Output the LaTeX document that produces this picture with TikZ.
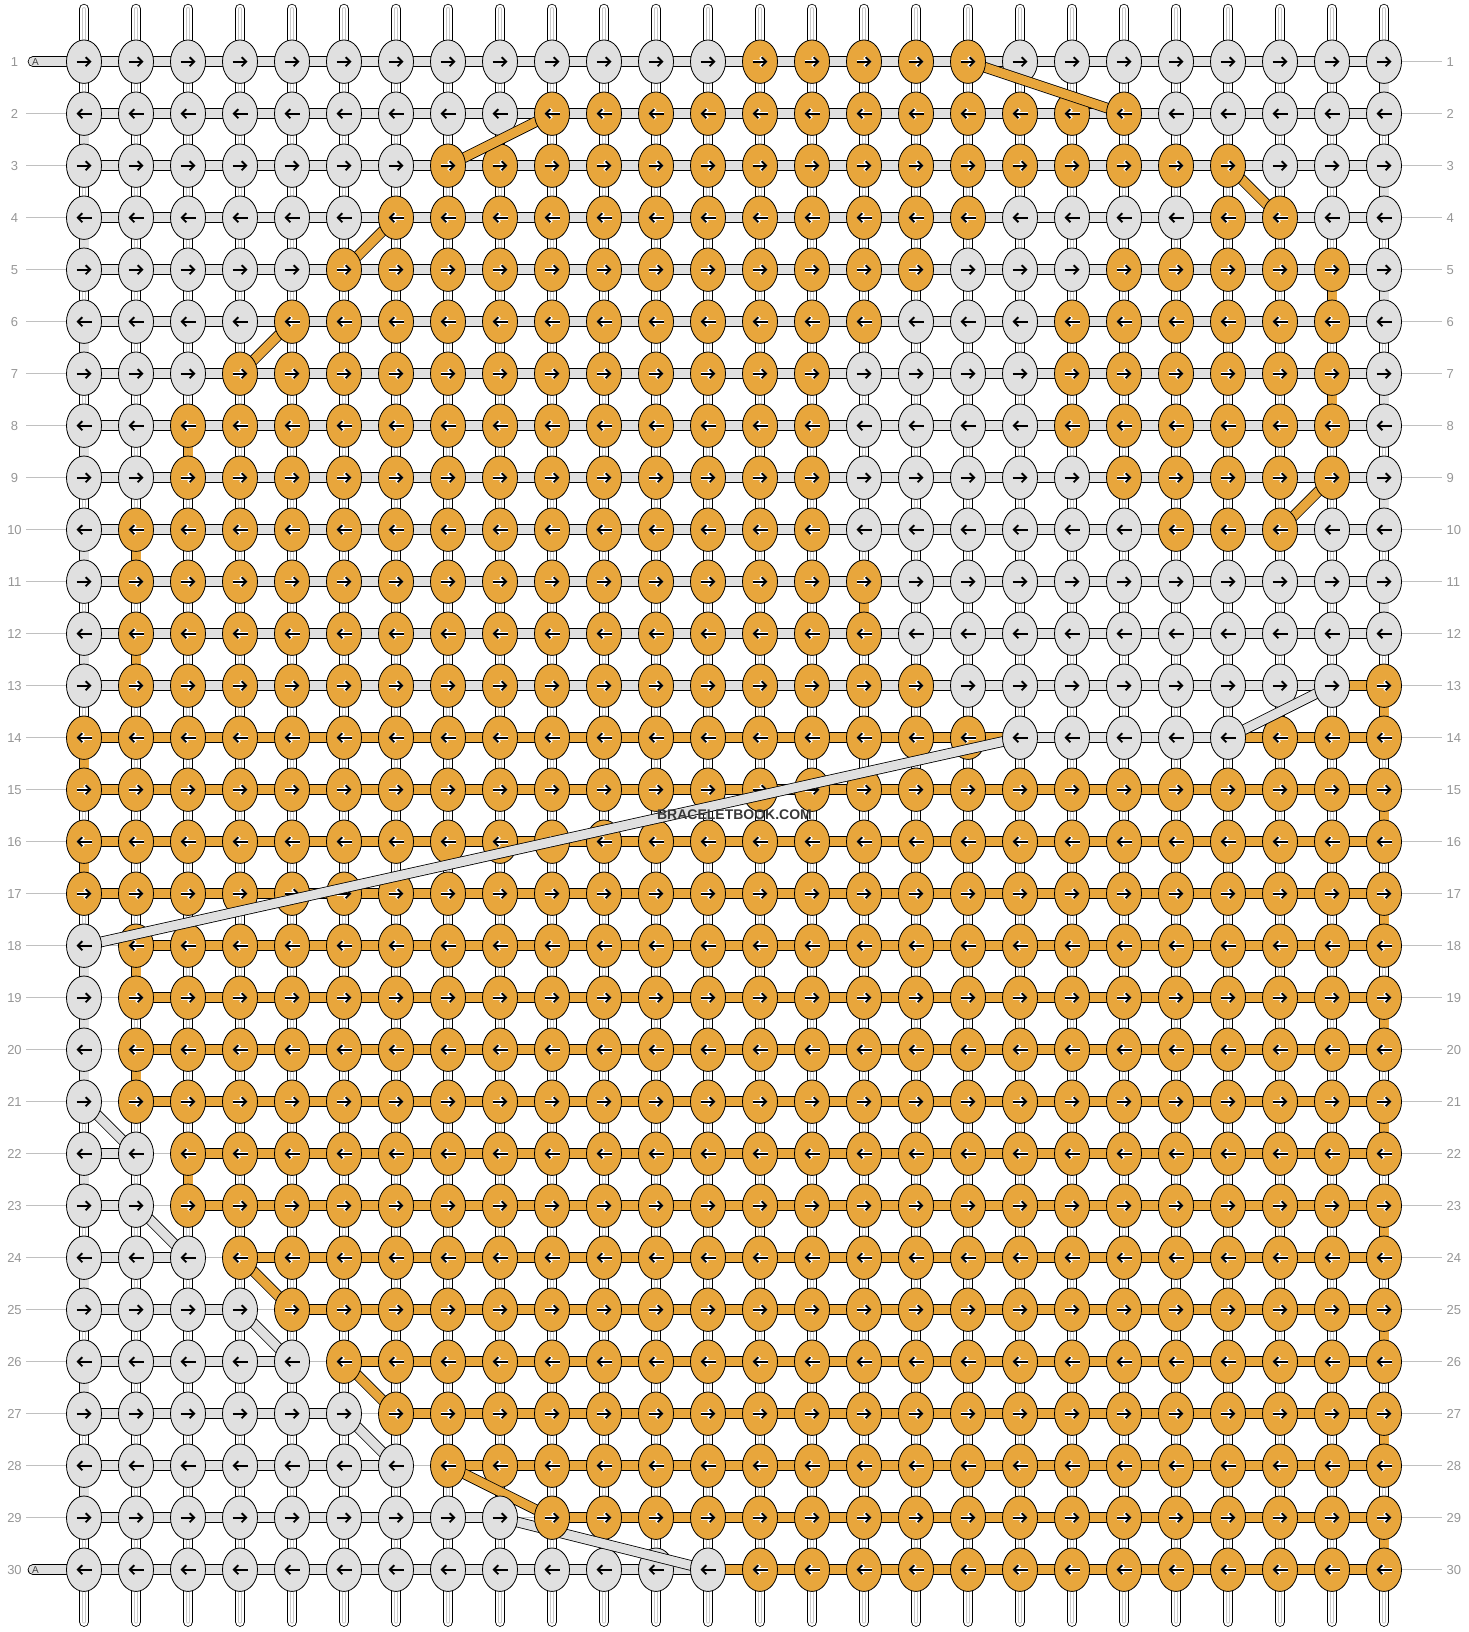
\documentclass[tikz,border=0pt]{standalone}
\usepackage{fontspec}
\setmainfont{Liberation Sans}
\usetikzlibrary{arrows.meta,shapes.geometric}

\definecolor{knotorange}{RGB}{232,166,60}
\definecolor{knotgray}{RGB}{224,224,224}
\definecolor{guidegray}{RGB}{192,192,192}
\definecolor{labelgray}{RGB}{150,150,150}
\definecolor{warpgray}{RGB}{200,200,200}

\pgfdeclarelayer{back}
\pgfdeclarelayer{diag}
\pgfdeclarelayer{top}
\pgfsetlayers{back,main,diag,top}

\tikzset{
  knot/.style={ellipse, draw=black, line width=0.8pt, minimum width=35pt, minimum height=43.4pt,
    inner sep=0pt, outer sep=0pt, path picture={
      \draw[halo] ([xshift=\kfrom]path picture bounding box.center) -- ([xshift=\kto]path picture bounding box.center);
      \draw[arrowline] ([xshift=\kfrom]path picture bounding box.center) -- ([xshift=\kto]path picture bounding box.center);}},
  halo/.style={draw=\khalo, line width=3.6pt, -{Straight Barb[length=4.5pt,width=9.5pt]}},
  arrowline/.style={draw=black, line width=1.9pt, -{Straight Barb[length=4.5pt,width=9pt]}},
  bar/.style={draw=black, line width=0.8pt, double=#1, double distance=9pt},
  warp/.style={draw=black, line width=0.8pt, double=white, double distance=8.7pt, line cap=round},
  warpline/.style={draw=warpgray, line width=0.7pt, double=white, double distance=2.2pt, line cap=round},
  guide/.style={draw=guidegray, line width=1pt},
  rownum/.style={text=labelgray, font=\fontsize{13}{13}\selectfont, inner sep=0pt}
}

% knot colours: row / first orange run / second orange run
\def\rowlist{1/14/18/0/0, 2/10/21/0/0, 3/8/23/0/0, 4/7/18/23/24, 5/6/17/21/25,
  6/5/16/20/25, 7/4/15/20/25, 8/3/15/20/25, 9/3/15/21/25, 10/2/15/22/24,
  11/2/16/0/0, 12/2/16/0/0, 13/2/17/26/26, 14/1/18/24/26, 15/1/26/0/0,
  16/1/26/0/0, 17/1/26/0/0, 18/2/26/0/0, 19/2/26/0/0, 20/2/26/0/0,
  21/2/26/0/0, 22/3/26/0/0, 23/3/26/0/0, 24/4/26/0/0, 25/5/26/0/0,
  26/6/26/0/0, 27/7/26/0/0, 28/8/26/0/0, 29/10/26/0/0, 30/14/26/0/0}

% threads that change row
\def\diaglist{1/18/2/21/knotorange, 2/10/3/8/knotorange, 3/23/4/24/knotorange,
  4/7/5/6/knotorange, 6/5/7/4/knotorange, 9/25/10/24/knotorange,
  24/4/25/5/knotorange, 26/6/27/7/knotorange, 28/8/29/10/knotorange,
  13/25/14/23/knotgray, 14/19/18/1/knotgray, 21/1/22/2/knotgray,
  23/2/24/3/knotgray, 25/4/26/5/knotgray, 27/6/28/7/knotgray, 29/9/30/13/knotgray}

% one pass over all knots: \kpass=1 draws only the ends of the row changes
\newcommand\knotloop{%
  \foreach \r/\a/\b/\d/\e in \rowlist {
    \foreach \c in {1,...,26} {
      \ifcsname top-\r-\c\endcsname \def\istop{1}\else\def\istop{0}\fi
      \ifnum\istop=\kpass
        \pgfmathtruncatemacro\isor{((\c>=\a)&&(\c<=\b))||((\c>=\d)&&(\c<=\e))}
        \ifnum\isor=1 \def\kfill{knotorange}\def\khalo{white}\else\def\kfill{knotgray}\def\khalo{knotgray}\fi
        \ifodd\r\relax \def\kfrom{-7.5pt}\def\kto{7.5pt}\else\def\kfrom{7.5pt}\def\kto{-7.5pt}\fi
        \node[knot, fill=\kfill] (k-\r-\c) at ({84+52*(\c-1)},{61.7+52*(\r-1)}) {};
      \fi
    }
  }}

\begin{document}
\begin{tikzpicture}[x=1pt, y=-1pt]

\useasboundingbox (0,0) rectangle (1468,1632);

\foreach \ra/\ca/\rb/\cb/\tc in \diaglist {
  \expandafter\gdef\csname top-\ra-\ca\endcsname{}
  \expandafter\gdef\csname top-\rb-\cb\endcsname{}
}

% knots
\def\kpass{0}
\knotloop
\begin{pgfonlayer}{top}
\def\kpass{1}
\knotloop
\end{pgfonlayer}

\begin{pgfonlayer}{back}
% guide lines
\foreach \r in {2,...,29}
  \draw[guide] (26,{61.7+52*(\r-1)}) -- (1442,{61.7+52*(\r-1)});
\foreach \r in {1,30}
  \draw[guide] (k-\r-26.center) -- (1442,{61.7+52*(\r-1)});

% warps
\foreach \c in {1,...,26} {
  \draw[warp] ([yshift=52.7pt]k-1-\c.center) -- ([yshift=-52pt]k-30-\c.center);
  \draw[warpline] ([yshift=52.7pt]k-1-\c.center) -- ([yshift=-52pt]k-30-\c.center);
}

% rows
\foreach \r in {1,...,12}
  \draw[bar=knotgray] (k-\r-1.center) -- (k-\r-26.center);
\foreach \r/\a/\b/\tc in {13/1/25/knotgray, 13/25/26/knotorange,
  14/1/19/knotorange, 14/19/23/knotgray, 14/23/26/knotorange,
  15/1/26/knotorange, 16/1/26/knotorange, 17/1/26/knotorange,
  18/2/26/knotorange, 19/2/26/knotorange, 20/2/26/knotorange, 21/2/26/knotorange,
  22/1/2/knotgray, 22/3/26/knotorange, 23/1/2/knotgray, 23/3/26/knotorange,
  24/1/3/knotgray, 24/4/26/knotorange, 25/1/4/knotgray, 25/5/26/knotorange,
  26/1/5/knotgray, 26/6/26/knotorange, 27/1/6/knotgray, 27/7/26/knotorange,
  28/1/7/knotgray, 28/8/26/knotorange, 29/1/9/knotgray, 29/10/26/knotorange,
  30/1/13/knotgray, 30/13/26/knotorange}
  \draw[bar=\tc] (k-\r-\a.center) -- (k-\r-\b.center);

% turns
\foreach \ra [evaluate=\ra as \rb using int(\ra+1)] in {1,3,...,11}
  \draw[bar=knotgray] (k-\ra-26.center) -- (k-\rb-26.center);
\foreach \ra [evaluate=\ra as \rb using int(\ra+1)] in {2,4,6,8,10,12,18,19,20,22,24,26,28}
  \draw[bar=knotgray] (k-\ra-1.center) -- (k-\rb-1.center);
\foreach \ra [evaluate=\ra as \rb using int(\ra+1)] in {13,15,...,29}
  \draw[bar=knotorange] (k-\ra-26.center) -- (k-\rb-26.center);
\foreach \c/\ra/\rb in {25/5/6, 25/7/8, 3/8/9, 2/10/11, 16/11/12, 2/12/13,
  1/14/15, 1/16/17, 2/18/19, 2/20/21, 3/22/23}
  \draw[bar=knotorange] (k-\ra-\c.center) -- (k-\rb-\c.center);

% A ends
\foreach \r in {1,30} {
  \coordinate (s-\r) at (33,{61.7+52*(\r-1)});
  \draw[bar=knotgray, line cap=round] (s-\r) -- (k-\r-1.center);
}
\end{pgfonlayer}

\foreach \r in {1,30}
  \node[font=\fontsize{10}{10}\selectfont, text=black!75, inner sep=0pt] (A-\r) at (35.5,{62+52*(\r-1)}) {A};

% row numbers
\foreach \r in {1,...,30} {
  \node[rownum] (ll-\r) at (14.5,{61.7+52*(\r-1)}) {\r};
  \node[rownum, anchor=west] (rl-\r) at (1446.5,{61.7+52*(\r-1)}) {\r};
}

\begin{pgfonlayer}{diag}
\foreach \ra/\ca/\rb/\cb/\tc in \diaglist
  \draw[bar=\tc] (k-\ra-\ca.center) -- (k-\rb-\cb.center);
\end{pgfonlayer}

\begin{pgfonlayer}{top}
\node[font=\bfseries\fontsize{14}{14}\selectfont, text=black!78, inner sep=0pt] (mark) at (734.5,815) {BRACELETBOOK.COM};
\end{pgfonlayer}

\end{tikzpicture}
\end{document}
